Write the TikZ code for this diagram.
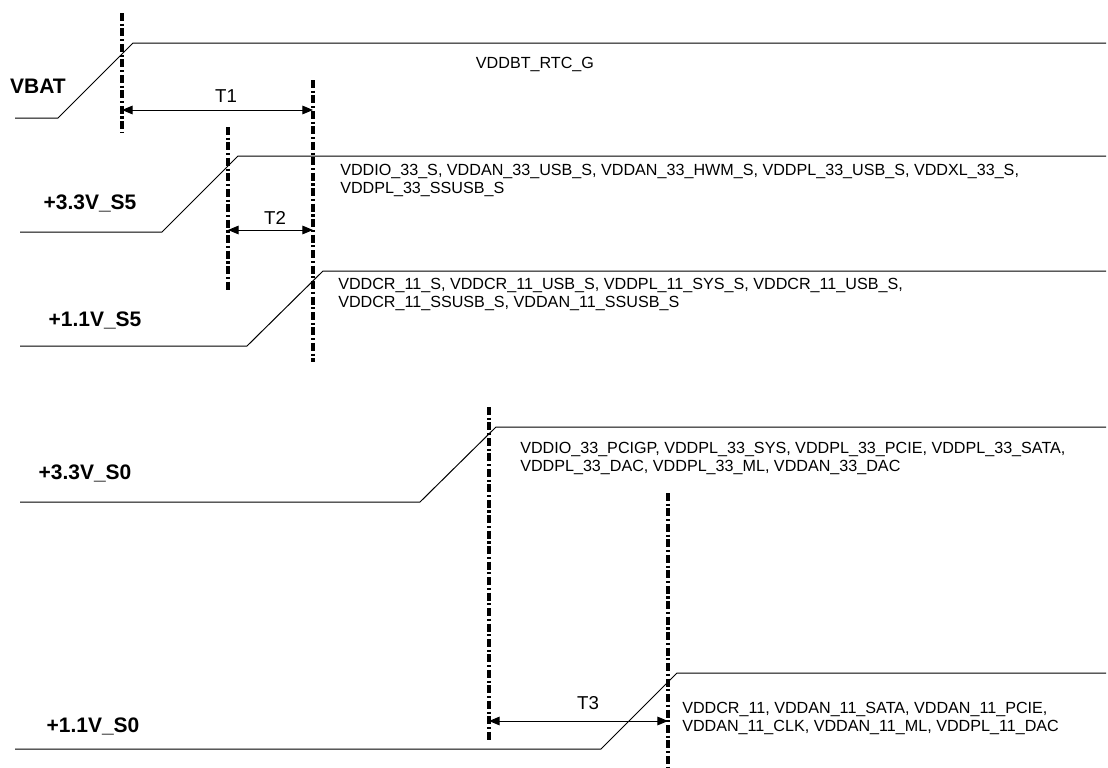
\documentclass[tikz,border=0pt]{standalone}
\usepackage{fontspec}
\setmainfont{Liberation Sans}
\usepackage{tikz}
\usetikzlibrary{arrows.meta, calc}

\tikzset{
  rail/.style={line width=0.75pt},
  marker/.style={line width=2.4pt, dash pattern=on 6pt off 2pt on 1.6pt off 2pt},
  span/.style={line width=0.75pt, {Triangle[length=8pt,width=6.5pt]}-{Triangle[length=8pt,width=6.5pt]}},
  railname/.style={font=\fontsize{15.75}{18}\selectfont\bfseries, anchor=base},
  pins/.style={font=\fontsize{12.1}{13.5}\selectfont, align=left, anchor=north west, inner sep=0pt},
  tlabel/.style={font=\fontsize{14}{16}\selectfont, anchor=base},
  rtcname/.style={font=\fontsize{12.1}{14}\selectfont, anchor=base}
}

\begin{document}
\begin{tikzpicture}[x=0.75pt, y=-0.75pt]
    \useasboundingbox (0,0) rectangle (1108,768);

    % Marker lines (top and bottom ends)
    \coordinate (M1t) at (122,13);  \coordinate (M1b) at (122,133);
    \coordinate (M2t) at (313,80);  \coordinate (M2b) at (313,362);
    \coordinate (M3t) at (228,127); \coordinate (M3b) at (228,290);
    \coordinate (M4t) at (489,407); \coordinate (M4b) at (489,742);
    \coordinate (M5t) at (668,493); \coordinate (M5b) at (668,768);

    % Rails: low level, ramp, high level
    \draw[rail] (15,118) -- (58,118) -- (133,43) -- (1106,43);
    \draw[rail] (20,232) -- (162,232) -- (238,156) -- (1106,156);
    \draw[rail] (20,346) -- (247,346) -- (323,271) -- (1106,271);
    \draw[rail] (20,502) -- (420,502) -- (496,427) -- (1106,427);
    \draw[rail] (15,749) -- (601,749) -- (677,673) -- (1106,673);

    % Draw markers
    \draw[marker] (M1t) -- (M1b);
    \draw[marker] (M2t) -- (M2b);
    \draw[marker] (M3t) -- (M3b);
    \draw[marker] (M4t) -- (M4b);
    \draw[marker] (M5t) -- (M5b);

    % Timing spans
    \draw[span] (M1t |- 0,110) coordinate (T1a) -- (M2t |- 0,110) coordinate (T1b);
    \draw[span] (M3t |- 0,230) coordinate (T2a) -- (M2t |- 0,230) coordinate (T2b);
    \draw[span] (M4t |- 0,721) coordinate (T3a) -- (M5t |- 0,721) coordinate (T3b);
    \node[tlabel] (t1) at (226,102.5) {T1};
    \node[tlabel] (t2) at (275,224) {T2};
    \node[tlabel] (t3) at (588,709) {T3};

    % Rail names
    \node[railname] (vbat)  at (38,93.5)  {VBAT};
    \node[railname] (s5a)   at (90,209.5) {+3.3V\_S5};
    \node[railname] (s5b)   at (95,326.5) {+1.1V\_S5};
    \node[railname] (s0a)   at (85,479.5) {+3.3V\_S0};
    \node[railname] (s0b)   at (93,732.5) {+1.1V\_S0};

    % Supplied pins
    \node[rtcname] (rtc) at (535,68) {VDDBT\_RTC\_G};
    \node[pins] (p1) at (340,164) {VDDIO\_33\_S, VDDAN\_33\_USB\_S, VDDAN\_33\_HWM\_S, VDDPL\_33\_USB\_S, VDDXL\_33\_S,\\VDDPL\_33\_SSUSB\_S};
    \node[pins] (p2) at (338,278) {VDDCR\_11\_S, VDDCR\_11\_USB\_S, VDDPL\_11\_SYS\_S, VDDCR\_11\_USB\_S,\\VDDCR\_11\_SSUSB\_S, VDDAN\_11\_SSUSB\_S};
    \node[pins] (p3) at (520,441.5) {VDDIO\_33\_PCIGP, VDDPL\_33\_SYS, VDDPL\_33\_PCIE, VDDPL\_33\_SATA,\\VDDPL\_33\_DAC, VDDPL\_33\_ML, VDDAN\_33\_DAC};
    \node[pins] (p4) at (682,702) {VDDCR\_11, VDDAN\_11\_SATA, VDDAN\_11\_PCIE,\\VDDAN\_11\_CLK, VDDAN\_11\_ML, VDDPL\_11\_DAC};
\end{tikzpicture}
\end{document}
